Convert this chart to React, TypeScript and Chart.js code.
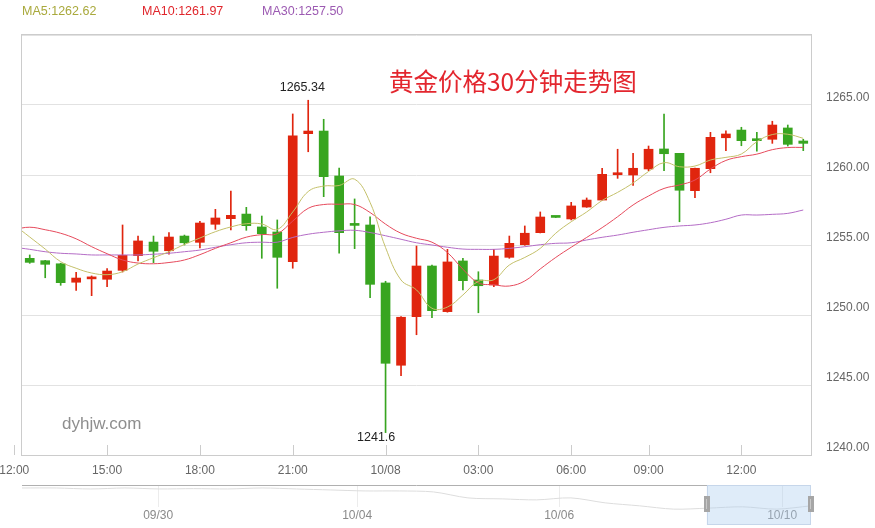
import React, { useEffect, useRef } from 'react';
import { Chart, registerables } from 'chart.js';

Chart.register(...registerables);

// ---------------- data ----------------
const candleOpen = [
  1254.05, 1253.88, 1253.66, 1252.34, 1252.58, 1252.55, 1253.19, 1254.24, 1255.21, 1254.59,
  1255.64, 1255.19, 1256.48, 1256.88, 1257.21, 1256.29, 1255.93, 1253.81, 1262.95, 1263.14,
  1259.93, 1256.45, 1256.43, 1252.29, 1246.41, 1249.88, 1253.5, 1250.24, 1253.86, 1252.5,
  1252.14, 1254.12, 1255.02, 1255.88, 1256.99, 1256.86, 1257.71, 1258.21, 1260.02, 1260.0,
  1260.43, 1261.86, 1261.55, 1258.88, 1260.45, 1262.66, 1263.21, 1262.47, 1262.55, 1263.36, 1262.43,
];
const candleClose = [
  1253.76, 1253.62, 1252.31, 1252.64, 1252.6, 1253.14, 1254.26, 1255.29, 1254.55, 1255.57,
  1255.16, 1256.57, 1256.93, 1257.12, 1256.38, 1255.81, 1254.12, 1262.79, 1263.14, 1259.88,
  1255.88, 1256.4, 1252.19, 1246.55, 1249.84, 1253.5, 1250.31, 1253.79, 1252.45, 1252.09,
  1254.21, 1255.12, 1255.84, 1257.0, 1256.97, 1257.79, 1258.21, 1260.05, 1260.12, 1260.48,
  1261.84, 1261.52, 1258.91, 1260.48, 1262.69, 1262.93, 1262.45, 1262.45, 1263.57, 1262.19, 1262.26,
];
const candleHigh = [
  1254.29, 1253.9, 1253.7, 1253.05, 1252.79, 1253.31, 1256.43, 1255.64, 1255.64, 1255.88,
  1255.71, 1256.69, 1257.55, 1258.86, 1257.69, 1257.07, 1256.79, 1264.36, 1265.34, 1263.98,
  1260.5, 1258.29, 1257.02, 1252.41, 1249.88, 1254.93, 1253.57, 1254.69, 1254.05, 1253.09,
  1254.69, 1255.64, 1256.36, 1257.36, 1257.0, 1258.05, 1258.36, 1260.48, 1261.84, 1261.55,
  1262.07, 1264.36, 1261.55, 1260.5, 1263.05, 1263.16, 1263.41, 1263.05, 1263.84, 1263.57, 1262.55,
];
const candleLow = [
  1253.69, 1252.66, 1252.12, 1251.76, 1251.38, 1252.02, 1253.07, 1253.86, 1253.74, 1254.34,
  1255.0, 1254.79, 1256.12, 1256.07, 1256.05, 1254.05, 1251.91, 1253.34, 1261.66, 1258.45,
  1254.41, 1254.74, 1251.24, 1241.6, 1245.66, 1248.59, 1249.81, 1250.2, 1251.79, 1250.16,
  1252.02, 1254.05, 1254.98, 1255.86, 1256.96, 1256.79, 1257.69, 1258.2, 1259.76, 1259.26,
  1260.31, 1260.31, 1256.66, 1258.38, 1260.16, 1261.74, 1262.09, 1261.71, 1262.26, 1262.07, 1261.74,
];

// moving averages, first value belongs to the candle just left of the window (index -1)
const maStartIndex = -1;
const ma5 = [
  1256.43,
  1255.57, 1254.71, 1253.81, 1253.34, 1253.0, 1252.88, 1253.09, 1253.64, 1254.09, 1254.52,
  1255.04, 1255.5, 1255.95, 1256.29, 1256.52, 1256.5, 1256.11, 1257.36, 1258.82, 1259.21,
  1259.25, 1259.7, 1258.04, 1254.82, 1252.5, 1251.79, 1250.48, 1250.57, 1251.43, 1252.41,
  1252.52, 1253.57, 1254.11, 1254.76, 1255.84, 1256.66, 1257.36, 1258.18, 1258.76, 1259.43,
  1260.25, 1260.88, 1260.59, 1260.64, 1261.07, 1261.26, 1261.5, 1262.38, 1262.89, 1262.91, 1262.62,
];
const ma10 = [
  1256.11,
  1256.27, 1256.09, 1255.84, 1255.44, 1254.88, 1254.38, 1253.93, 1253.71, 1253.66, 1253.75,
  1253.93, 1254.31, 1254.76, 1255.16, 1255.56, 1255.74, 1255.81, 1256.71, 1257.62, 1257.89,
  1257.91, 1257.89, 1257.32, 1256.49, 1255.84, 1255.48, 1255.2, 1254.46, 1253.27, 1252.3,
  1252.16, 1252.07, 1252.43, 1253.29, 1254.11, 1254.84, 1255.54, 1256.24, 1257.02, 1257.86,
  1258.5, 1259.04, 1259.29, 1259.64, 1260.43, 1261.04, 1261.31, 1261.49, 1261.81, 1261.96, 1261.97,
];
const ma30 = [
  1254.84,
  1254.69, 1254.52, 1254.41, 1254.36, 1254.29, 1254.29, 1254.29, 1254.29, 1254.34, 1254.41,
  1254.52, 1254.64, 1254.84, 1255.02, 1255.16, 1255.2, 1255.2, 1255.54, 1255.77, 1255.91,
  1256.01, 1256.05, 1255.89, 1255.66, 1255.41, 1255.16, 1255.0, 1254.84, 1254.71, 1254.69,
  1254.69, 1254.76, 1254.88, 1255.02, 1255.12, 1255.16, 1255.36, 1255.55, 1255.71, 1255.91,
  1256.09, 1256.26, 1256.36, 1256.43, 1256.59, 1256.84, 1257.14, 1257.14, 1257.19, 1257.26, 1257.5,
];

const xTickIndex = [-1, 5, 11, 17, 23, 29, 35, 40, 46];
const xTickLabels = ['12:00', '15:00', '18:00', '21:00', '10/08', '03:00', '06:00', '09:00', '12:00'];
const yMin = 1240;
const yMax = 1270;
const yStep = 5;

const chartTitle = '黄金价格30分钟走势图';
const watermark = 'dyhjw.com';

// navigator (overview of the longer period)
const navValues = [
  1322, 1322, 1319, 1322, 1319, 1320, 1319, 1322, 1319, 1316, 1313, 1313,
  1310, 1292, 1289, 1286, 1292, 1277, 1268, 1258, 1261, 1265, 1258, 1268,
];
const navDateIndex = [3.97, 9.77, 15.66, 22.16];
const navDateLabels = ['09/30', '10/04', '10/06', '10/10'];
const navZoomStart = 86.8;
const navZoomEnd = 100;

// ---------------- styles ----------------
const RED = '#e0250e';
const GREEN = '#38a520';
const FONT = '"Liberation Sans", Arial, sans-serif';
const MA_STYLES = [
  { name: 'MA5', line: '#c4c06a', text: '#a9a93c', values: ma5 },
  { name: 'MA10', line: '#e64a5c', text: '#e0262c', values: ma10 },
  { name: 'MA30', line: '#b46cc6', text: '#9c5ab2', values: ma30 },
];

const idx = candleOpen.map((_, i) => i);
const isUp = idx.map((i) => candleClose[i] >= candleOpen[i]);
const candleColors = isUp.map((u) => (u ? RED : GREEN));

const decorPlugin = {
  id: 'decor',
  beforeDatasetsDraw(chart: any) {
    const { ctx, chartArea: a, scales } = chart;
    ctx.save();
    ctx.strokeStyle = '#cccccc';
    ctx.lineWidth = 1;
    ctx.strokeRect(Math.round(a.left) - 0.5, Math.round(a.top) - 0.5, Math.round(a.right - a.left) + 1, Math.round(a.bottom - a.top) + 1);
    ctx.beginPath();
    xTickIndex.forEach((v) => {
      const x = Math.round(scales.x.getPixelForValue(v)) + 0.5;
      ctx.moveTo(x, a.bottom - 10);
      ctx.lineTo(x, a.bottom);
    });
    ctx.stroke();
    ctx.fillStyle = '#8e8e8e';
    ctx.font = `17px ${FONT}`;
    ctx.textAlign = 'left';
    ctx.textBaseline = 'middle';
    ctx.fillText(watermark, 62, 424);
    ctx.restore();
  },
  afterDatasetsDraw(chart: any) {
    const { ctx, scales } = chart;
    ctx.save();
    // title
    ctx.fillStyle = '#e3262e';
    ctx.font = `24.5px "Noto Sans CJK SC", sans-serif`;
    ctx.textAlign = 'left';
    ctx.textBaseline = 'middle';
    ctx.fillText(chartTitle, 389, 82);
    // legend
    ctx.font = `12.5px ${FONT}`;
    const legendX = [22, 142, 262];
    MA_STYLES.forEach((m, k) => {
      ctx.fillStyle = m.text;
      ctx.fillText(`${m.name}:${m.values[m.values.length - 1].toFixed(2)}`, legendX[k], 12);
    });
    // max / min marks
    let hi = 0;
    let lo = 0;
    idx.forEach((i) => {
      if (candleHigh[i] > candleHigh[hi]) hi = i;
      if (candleLow[i] < candleLow[lo]) lo = i;
    });
    ctx.fillStyle = '#222';
    ctx.font = `12.5px ${FONT}`;
    ctx.fillText(String(candleHigh[hi]), scales.x.getPixelForValue(hi) - 28.5, scales.y.getPixelForValue(candleHigh[hi]) - 13);
    ctx.fillText(String(candleLow[lo]), scales.x.getPixelForValue(lo) - 28.5, scales.y.getPixelForValue(candleLow[lo]) + 5);
    ctx.restore();
  },
};

const navPlugin = {
  id: 'navdecor',
  beforeDatasetsDraw(chart: any) {
    const { ctx, chartArea: a, scales } = chart;
    ctx.save();
    ctx.strokeStyle = '#ececec';
    ctx.lineWidth = 1;
    ctx.beginPath();
    navDateIndex.forEach((v) => {
      const x = Math.round(scales.x.getPixelForValue(v)) + 0.5;
      ctx.moveTo(x, a.top);
      ctx.lineTo(x, a.top + 22);
    });
    ctx.stroke();
    ctx.restore();
  },
  afterDatasetsDraw(chart: any) {
    const { ctx, chartArea: a, scales } = chart;
    ctx.save();
    ctx.strokeStyle = '#b0b0b0';
    ctx.lineWidth = 1;
    ctx.beginPath();
    ctx.moveTo(a.left, Math.round(a.top) + 0.5);
    ctx.lineTo(a.right, Math.round(a.top) + 0.5);
    ctx.stroke();
    ctx.fillStyle = '#8a8a8a';
    ctx.font = `12px ${FONT}`;
    ctx.textAlign = 'center';
    ctx.textBaseline = 'middle';
    navDateIndex.forEach((v, k) => {
      ctx.fillText(navDateLabels[k], scales.x.getPixelForValue(v), a.top + 31);
    });
    const w = a.right - a.left;
    const x0 = a.left + (w * navZoomStart) / 100;
    const x1 = a.left + (w * navZoomEnd) / 100;
    ctx.fillStyle = 'rgba(170,205,240,0.38)';
    ctx.fillRect(x0, a.top, x1 - x0, a.bottom - a.top);
    ctx.strokeStyle = '#c6d6ea';
    ctx.strokeRect(Math.round(x0) + 0.5, Math.round(a.top) + 0.5, Math.round(x1 - x0) - 1, Math.round(a.bottom - a.top) - 1);
    ctx.fillStyle = '#a6a6a6';
    [x0, x1].forEach((x) => {
      ctx.fillRect(Math.round(x) - 3, a.top + 11, 6, 16);
    });
    ctx.fillStyle = '#c8c8c8';
    [x0, x1].forEach((x) => {
      ctx.fillRect(Math.round(x) - 1, a.top + 14, 1, 10);
    });
    ctx.restore();
  },
};

export default function App() {
  const mainRef = useRef<HTMLCanvasElement>(null);
  const navRef = useRef<HTMLCanvasElement>(null);

  useEffect(() => {
    Chart.defaults.font.family = FONT;
    const lineSets = MA_STYLES.map((m) => ({
      type: 'line' as const,
      label: m.name,
      data: m.values.map((v, k) => ({ x: k + maStartIndex, y: v })),
      borderColor: m.line,
      borderWidth: 1,
      pointRadius: 0,
      tension: 0.4,
      fill: false,
      order: 0,
    }));
    const main = new Chart(mainRef.current!, {
      type: 'bar',
      data: {
        datasets: [
          ...lineSets,
          {
            type: 'bar',
            label: 'body',
            data: idx.map((i) => ({ x: i, y: [candleOpen[i], candleClose[i]] })) as any,
            backgroundColor: candleColors,
            barThickness: 9,
            minBarLength: 2,
            grouped: false,
            order: 1,
          },
          {
            type: 'bar',
            label: 'wick',
            data: idx.map((i) => ({ x: i, y: [candleLow[i], candleHigh[i]] })) as any,
            backgroundColor: candleColors,
            barThickness: 1,
            grouped: false,
            order: 2,
          },
        ] as any,
      },
      options: {
        animation: false,
        responsive: false,
        events: [],
        layout: { padding: { left: 22, top: 35, right: 0, bottom: 0 } },
        plugins: { legend: { display: false }, tooltip: { enabled: false } },
        scales: {
          x: {
            type: 'linear',
            min: -0.5,
            max: 50.5,
            offset: false,
            grid: { display: false, drawTicks: false },
            border: { display: false },
            afterBuildTicks: (s: any) => {
              s.ticks = xTickIndex.map((v) => ({ value: v }));
            },
            afterFit: (s: any) => {
              s.height = 25;
              s.paddingLeft = 0;
              s.paddingRight = 0;
            },
            ticks: {
              autoSkip: false,
              maxRotation: 0,
              padding: 8,
              color: '#666',
              font: { size: 12, family: FONT },
              callback: (v: any) => {
                const k = xTickIndex.indexOf(Number(v));
                return k >= 0 ? xTickLabels[k] : '';
              },
            },
          },
          y: {
            type: 'linear',
            position: 'right',
            min: yMin,
            max: yMax,
            grid: { color: '#e2e2e2', drawTicks: false },
            border: { display: false },
            afterFit: (s: any) => {
              s.width = 64;
              s.paddingTop = 0;
              s.paddingBottom = 0;
            },
            ticks: {
              stepSize: yStep,
              padding: 15,
              labelOffset: -7,
              color: '#666',
              font: { size: 12, family: FONT },
              callback: (v: any) => (Number(v) >= yMax ? '' : Number(v).toFixed(2)),
            },
          },
        },
      } as any,
      plugins: [decorPlugin],
    });

    const nav = new Chart(navRef.current!, {
      type: 'line',
      data: {
        datasets: [
          {
            data: navValues.map((v, i) => ({ x: i, y: v })),
            borderColor: '#dddddd',
            borderWidth: 1,
            pointRadius: 0,
            tension: 0.3,
            fill: false,
          },
        ],
      },
      options: {
        animation: false,
        responsive: false,
        events: [],
        layout: { padding: { left: 22, right: 64, top: 5, bottom: 3 } },
        plugins: { legend: { display: false }, tooltip: { enabled: false } },
        scales: {
          x: { type: 'linear', min: 0, max: navValues.length - 1, display: false },
          y: { type: 'linear', min: 1210, max: 1331, display: false },
        },
      } as any,
      plugins: [navPlugin],
    });

    return () => {
      main.destroy();
      nav.destroy();
    };
  }, []);

  return (
    <div style={{ position: 'absolute', left: 0, top: 0, width: 875, height: 528, background: '#fff' }}>
      <canvas ref={mainRef} width={875} height={480} style={{ position: 'absolute', left: 0, top: 0, display: 'block' }} />
      <canvas ref={navRef} width={875} height={48} style={{ position: 'absolute', left: 0, top: 480, display: 'block' }} />
    </div>
  );
}
